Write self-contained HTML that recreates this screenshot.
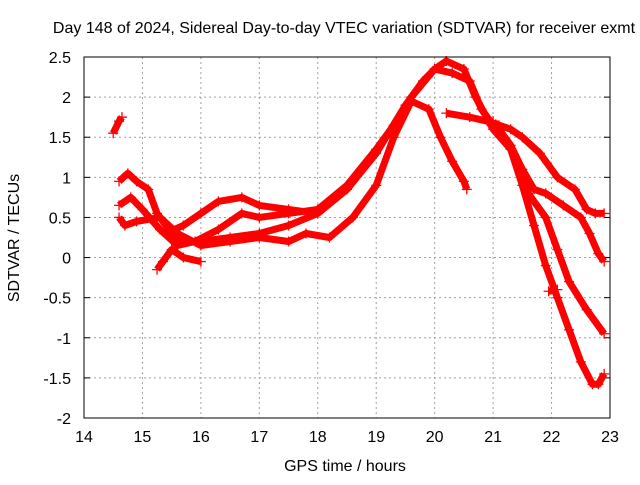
<!DOCTYPE html>
<html><head><meta charset="utf-8"><style>
body{margin:0;background:#fff;}
svg text{font-family:"Liberation Sans",sans-serif;font-size:16px;fill:#000;}
</style></head><body>
<svg id="chart" width="640" height="480" xmlns="http://www.w3.org/2000/svg">
<text x="344" y="33" text-anchor="middle">Day 148 of 2024, Sidereal Day-to-day VTEC variation (SDTVAR) for receiver exmt</text>
<text x="345" y="471" text-anchor="middle">GPS time / hours</text>
<text transform="translate(19,238) rotate(-90)" text-anchor="middle">SDTVAR / TECUs</text>
<g id="grid"></g><g id="ticks"></g><g id="series"></g>
<rect x="84" y="57" width="526" height="361" fill="none" stroke="#000" stroke-width="1"/>
</svg>
<script>
const xTicks=[14,15,16,17,18,19,20,21,22,23];
const yTicks=[-2,-1.5,-1,-0.5,0,0.5,1,1.5,2,2.5];
const yTickLabels=["-2","-1.5","-1","-0.5","0","0.5","1","1.5","2","2.5"];
const trackA=[[14.6,0.95],[14.75,1.05],[14.9,0.95],[15.1,0.85],[15.25,0.55],[15.5,0.3],[15.7,0.2],[16,0.2],[16.5,0.25],[17,0.3],[17.5,0.4],[18,0.55],[18.5,0.85],[19,1.3],[19.5,1.9],[19.8,2.2],[20,2.35],[20.2,2.45],[20.5,2.35],[20.7,2.0],[21,1.6],[21.3,1.35],[21.5,0.9],[21.7,0.4],[21.9,-0.1],[22.1,-0.5],[22.3,-0.9],[22.5,-1.3],[22.7,-1.58],[22.8,-1.58],[22.9,-1.45]];
const trackB=[[14.6,0.65],[14.8,0.75],[15.0,0.6],[15.3,0.35],[15.6,0.15],[15.9,0.2],[16.3,0.35],[16.7,0.55],[17,0.5],[17.5,0.55],[18,0.6],[18.5,0.9],[19,1.35],[19.3,1.65],[19.6,2.0],[20,2.35],[20.3,2.3],[20.6,2.2],[20.8,1.85],[21,1.65],[21.3,1.35],[21.6,0.8],[21.9,0.5],[22.1,0.1],[22.3,-0.3],[22.6,-0.65],[22.9,-0.95]];
const trackC=[[14.6,0.5],[14.7,0.4],[14.9,0.45],[15.3,0.5],[15.6,0.3],[16,0.15],[16.5,0.2],[17,0.25],[17.5,0.2],[17.8,0.3],[18.2,0.25],[18.6,0.5],[19,0.9],[19.3,1.5],[19.6,1.95],[19.9,1.85],[20.1,1.5],[20.3,1.2],[20.5,0.95],[20.55,0.85]];
const trackD=[[20.2,1.8],[20.6,1.75],[20.9,1.7],[21.1,1.65],[21.3,1.6],[21.5,1.5],[21.8,1.3],[22.1,1.0],[22.4,0.85],[22.6,0.6],[22.75,0.55],[22.9,0.55]];
const trackE=[[21.0,1.7],[21.3,1.4],[21.5,1.1],[21.7,0.85],[21.9,0.8],[22.2,0.65],[22.5,0.5],[22.65,0.3],[22.8,0.05],[22.9,-0.05]];
const trackF=[[15.4,0.3],[15.7,0.4],[16,0.55],[16.3,0.7],[16.7,0.75],[17,0.65],[17.5,0.6],[18,0.55]];
const trackG=[[15.25,-0.15],[15.35,-0.05],[15.5,0.1],[15.7,0.0],[16.0,-0.05]];
const trackH=[[14.5,1.55],[14.6,1.7],[14.65,1.75]];
const trackI=[[21.95,-0.42],[22.1,-0.4]];
const tracks=[trackA,trackB,trackC,trackD,trackE,trackF,trackG,trackH,trackI];
const X=v=>84+(v-14)*526/9, Y=v=>418-(v+2)*361/4.5;
const NS="http://www.w3.org/2000/svg";
const grid=document.getElementById('grid'),ticks=document.getElementById('ticks'),ser=document.getElementById('series');
function mk(tag,a,p){const e=document.createElementNS(NS,tag);for(const k in a)e.setAttribute(k,a[k]);p.appendChild(e);return e;}
xTicks.forEach(t=>{const x=X(t);
 if(t>14&&t<23){const g=mk('line',{x1:x,x2:x,y1:57,y2:418,stroke:'#a0a0a0','stroke-dasharray':'2,3'},grid);
 
 }
 const l=mk('text',{x:x,y:442,'text-anchor':'middle'},ticks);l.textContent=t;
 
 });
yTicks.forEach((t,i)=>{const y=Y(t);
 if(t>-2&&t<2.5){const g=mk('line',{x1:84,x2:610,y1:y,y2:y,stroke:'#a0a0a0','stroke-dasharray':'2,3'},grid);
 
 }
 mk('line',{x1:84,x2:90,y1:y,y2:y,stroke:'#000'},ticks);mk('line',{x1:604,x2:610,y1:y,y2:y,stroke:'#000'},ticks);
 const l=mk('text',{x:71,y:y+6,'text-anchor':'end'},ticks);l.textContent=yTickLabels[i];
 
 });
tracks.forEach(tr=>{
 const pl=mk('polyline',{points:tr.map(p=>X(p[0])+','+Y(p[1])).join(' '),fill:'none',stroke:'#ff0000','stroke-width':7,'stroke-linejoin':'round'},ser);
 
 
 tr.forEach(p=>{const x=X(p[0]),y=Y(p[1]);
  const m=mk('path',{d:`M${x-5},${y}H${x+5}M${x},${y-5}V${y+5}`,stroke:'#ff0000','stroke-width':1.3},ser);
  
  });
});
</script>
</body></html>
